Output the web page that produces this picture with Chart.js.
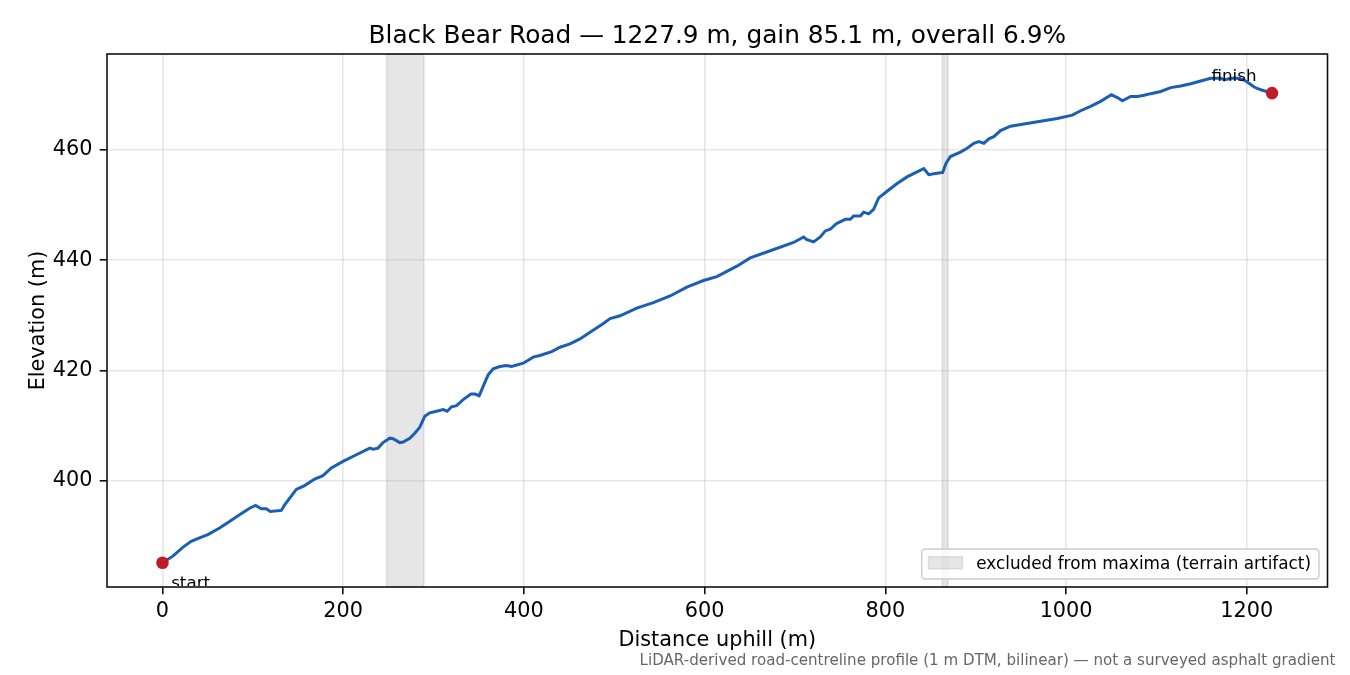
<!DOCTYPE html>
<html lang="en">
    <head>
        <meta charset="UTF-8" />
        <title>Black Bear Road profile</title>
        <script src="https://cdn.jsdelivr.net/npm/chart.js"></script>
        <style>
            html, body { margin: 0; padding: 0; background: #fff; }
            canvas { display: block; }
        </style>
    </head>
    <body>
        <canvas id="profileChart" width="1350" height="675"></canvas>

        <script>
            // distance uphill (m) and elevation (m)
            const distance = [
                0, 11.5, 22.5, 31.8, 41, 50.2, 63.2, 74.2, 85.3, 96.4,
                103, 109.3, 114.9, 119.3, 131.5, 135.2, 148.1, 157.3, 168.4, 177.6,
                186.9, 199.8, 214.6, 229.4, 233, 238.6, 244.1, 251.5, 255.2, 262.6,
                266.3, 273.7, 279.2, 284.8, 290.3, 295.8, 303.3, 310.6, 315.1, 319.9,
                325.4, 332.8, 341.3, 345.7, 350.5, 354.9, 360.4, 366, 373.4, 380.8,
                386.4, 399.2, 410.3, 417.7, 430.7, 439.9, 451, 462, 478.7, 487.9,
                495.3, 506.4, 524.9, 543.3, 561.8, 580.3, 598.7, 613.5, 635.7, 650.4,
                672.6, 698.4, 709.5, 713.2, 720.6, 728, 733.5, 739, 745.7, 755.7,
                761.2, 764.9, 772.3, 776, 781.5, 787, 792.6, 801.9, 813, 824,
                835.1, 842.5, 848, 855.4, 859.1, 863.5, 867.2, 872, 883.1, 890.5,
                897.9, 903.4, 909, 914.5, 920, 927.4, 938.5, 953.3, 971.8, 990.2,
                1006.9, 1016.1, 1027.1, 1038.2, 1050.1, 1056.7, 1062.3, 1071.5, 1078.9, 1086.3,
                1093.6, 1104.7, 1115.8, 1126.9, 1137.9, 1149, 1160.1, 1171.2, 1174.9, 1182.3,
                1191.5, 1198.9, 1208.1, 1215.5, 1227.9
            ];
            const elevation = [
                385.1, 386.3, 387.9, 389.0, 389.6, 390.2, 391.4, 392.6, 393.8, 395.0,
                395.5, 394.9, 394.9, 394.4, 394.6, 395.6, 398.4, 399.1, 400.3, 400.9,
                402.3, 403.5, 404.7, 405.9, 405.7, 405.9, 406.9, 407.7, 407.6, 406.9,
                407.0, 407.7, 408.6, 409.7, 411.7, 412.3, 412.6, 412.9, 412.6, 413.4,
                413.6, 414.7, 415.7, 415.7, 415.4, 417.1, 419.2, 420.3, 420.7, 420.9,
                420.7, 421.3, 422.4, 422.7, 423.4, 424.2, 424.8, 425.7, 427.5, 428.5,
                429.4, 429.9, 431.3, 432.3, 433.5, 435.1, 436.3, 437.0, 438.9, 440.4,
                441.7, 443.2, 444.2, 443.7, 443.3, 444.2, 445.3, 445.6, 446.6, 447.4,
                447.4, 448.0, 448.0, 448.7, 448.4, 449.2, 451.3, 452.5, 453.9, 455.1,
                456.0, 456.6, 455.5, 455.7, 455.8, 455.9, 457.6, 458.8, 459.6, 460.3,
                461.2, 461.5, 461.2, 462.0, 462.4, 463.5, 464.3, 464.7, 465.2, 465.7,
                466.3, 467.1, 467.9, 468.8, 470.0, 469.5, 468.9, 469.7, 469.7, 469.9,
                470.2, 470.6, 471.3, 471.6, 472.0, 472.5, 473.0, 473.0, 472.7, 473.0,
                473.0, 472.5, 471.4, 470.9, 470.3
            ];

            // stretches left out of the maxima
            const excludedStart = [248, 863];
            const excludedEnd = [289.3, 869.3];

            const xTicks = [0, 200, 400, 600, 800, 1000, 1200];
            const yTicks = [400, 420, 440, 460];

            const titleText = 'Black Bear Road \u2014 1227.9 m, gain 85.1 m, overall 6.9%';
            const legendText = 'excluded from maxima (terrain artifact)';
            const noteText = 'LiDAR-derived road-centreline profile (1 m DTM, bilinear) \u2014 not a surveyed asphalt gradient';

            const FONT = '"DejaVu Sans", "Liberation Sans", sans-serif';
            const BLUE = '#1a5fb4';
            const RED = '#c01c28';
            const BAND = 'rgba(128,128,128,0.2)';

            // 5% margins like the original plot
            const xLo = Math.min(...distance), xHi = Math.max(...distance);
            const yLo = Math.min(...elevation), yHi = Math.max(...elevation);
            const xPad = (xHi - xLo) * 0.05, yPad = (yHi - yLo) * 0.05;

            const profile = distance.map((d, i) => ({ x: d, y: elevation[i] }));
            const last = distance.length - 1;
            const ends = [
                { x: distance[0], y: elevation[0] },
                { x: distance[last], y: elevation[last] }
            ];

            const decor = {
                id: 'decor',
                beforeDraw(chart) {
                    const { ctx, chartArea: a, scales: { x } } = chart;
                    ctx.save();
                    ctx.fillStyle = '#fff';
                    ctx.fillRect(0, 0, chart.width, chart.height);
                    ctx.fillStyle = BAND;
                    ctx.strokeStyle = BAND;
                    ctx.lineWidth = 1.5;
                    excludedStart.forEach((s, i) => {
                        const p1 = x.getPixelForValue(s);
                        const p2 = x.getPixelForValue(excludedEnd[i]);
                        ctx.fillRect(p1, a.top, p2 - p1, a.bottom - a.top);
                        ctx.strokeRect(p1, a.top, p2 - p1, a.bottom - a.top);
                    });
                    ctx.restore();
                },
                afterDraw(chart) {
                    const { ctx, chartArea: a, scales: { x, y } } = chart;
                    ctx.save();

                    // frame
                    ctx.strokeStyle = '#111';
                    ctx.lineWidth = 1.6;
                    ctx.strokeRect(a.left, a.top, a.right - a.left, a.bottom - a.top);

                    // title
                    ctx.fillStyle = '#000';
                    ctx.textAlign = 'center';
                    ctx.textBaseline = 'alphabetic';
                    ctx.font = '24.8px ' + FONT;
                    ctx.fillText(titleText, (a.left + a.right) / 2, 42.5);

                    // axis titles
                    ctx.font = '20.8px ' + FONT;
                    ctx.fillText('Distance uphill (m)', (a.left + a.right) / 2, 646);
                    ctx.save();
                    ctx.translate(44, (a.top + a.bottom) / 2);
                    ctx.rotate(-Math.PI / 2);
                    ctx.fillText('Elevation (m)', 0, 0);
                    ctx.restore();

                    // start / finish labels
                    ctx.font = '16.7px ' + FONT;
                    const sx = x.getPixelForValue(ends[0].x), sy = y.getPixelForValue(ends[0].y);
                    const fx = x.getPixelForValue(ends[1].x), fy = y.getPixelForValue(ends[1].y);
                    ctx.save();
                    ctx.beginPath();
                    ctx.rect(a.left, a.top, a.right - a.left, a.bottom - a.top - 1);
                    ctx.clip();
                    ctx.textAlign = 'left';
                    ctx.fillText('start', sx + 8.7, sy + 25.5);
                    ctx.restore();
                    ctx.textAlign = 'right';
                    ctx.fillText('finish', fx - 15.5, fy - 12.6);

                    // legend
                    const lx = 921.7, ly = 549, lw = 397.3, lh = 30;
                    ctx.beginPath();
                    ctx.roundRect(lx, ly, lw, lh, 3.5);
                    ctx.fillStyle = 'rgba(255,255,255,0.8)';
                    ctx.fill();
                    ctx.strokeStyle = '#cccccc';
                    ctx.lineWidth = 1.4;
                    ctx.stroke();
                    ctx.fillStyle = BAND;
                    ctx.strokeStyle = BAND;
                    ctx.fillRect(928.5, 556.7, 34, 12.3);
                    ctx.strokeRect(928.5, 556.7, 34, 12.3);
                    ctx.fillStyle = '#000';
                    ctx.textAlign = 'left';
                    ctx.font = '16.85px ' + FONT;
                    ctx.fillText(legendText, 976.2, 568.5);

                    // footnote
                    ctx.fillStyle = '#666';
                    ctx.textAlign = 'right';
                    ctx.font = '15.1px ' + FONT;
                    ctx.fillText(noteText, 1335.5, 665);

                    ctx.restore();
                }
            };

            Chart.defaults.font.family = FONT;
            Chart.defaults.color = '#000';

            const ctx = document.getElementById('profileChart').getContext('2d');
            const profileChart = new Chart(ctx, {
                type: 'line',
                data: {
                    datasets: [
                        {
                            data: profile,
                            borderColor: BLUE,
                            borderWidth: 3,
                            pointRadius: 0,
                            tension: 0,
                            fill: false,
                            order: 2
                        },
                        {
                            data: ends,
                            showLine: false,
                            pointRadius: 6.3,
                            pointBackgroundColor: RED,
                            pointBorderWidth: 0,
                            order: 1
                        }
                    ]
                },
                options: {
                    responsive: false,
                    animation: false,
                    devicePixelRatio: 1,
                    layout: { padding: { top: 54, right: 22.5, left: 0, bottom: 0 } },
                    plugins: {
                        legend: { display: false },
                        tooltip: { enabled: false },
                        title: { display: false }
                    },
                    scales: {
                        x: {
                            type: 'linear',
                            min: xLo - xPad,
                            max: xHi + xPad,
                            afterFit: s => { s.height = 88; },
                            afterBuildTicks: s => { s.ticks = xTicks.map(v => ({ value: v })); },
                            border: { display: false },
                            grid: {
                                color: 'rgba(176,176,176,0.3)',
                                lineWidth: 1.6,
                                tickColor: '#111',
                                tickWidth: 1.6,
                                tickLength: 7.3
                            },
                            ticks: {
                                padding: 5,
                                maxRotation: 0,
                                font: { size: 20.8 },
                                callback: v => String(v)
                            }
                        },
                        y: {
                            type: 'linear',
                            min: yLo - yPad,
                            max: yHi + yPad,
                            afterFit: s => { s.width = 107; },
                            afterBuildTicks: s => { s.ticks = yTicks.map(v => ({ value: v })); },
                            border: { display: false },
                            grid: {
                                color: 'rgba(176,176,176,0.3)',
                                lineWidth: 1.6,
                                tickColor: '#111',
                                tickWidth: 1.6,
                                tickLength: 7.3
                            },
                            ticks: {
                                padding: 7.3,
                                font: { size: 20.8 },
                                callback: v => String(v)
                            }
                        }
                    }
                },
                plugins: [decor]
            });
        </script>
    </body>
</html>
